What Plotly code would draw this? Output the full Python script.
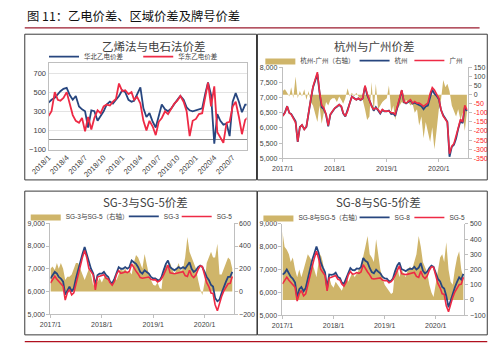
import plotly.graph_objects as go

W, H = 494, 354


def px(x):
    return x / W


def py(y):
    return 1 - y / H


def semimonthly(y0, m0, y1, m1):
    out = []
    y, m = y0, m0
    while (y, m) <= (y1, m1):
        out += [f"{y}-{m:02d}-01", f"{y}-{m:02d}-16"]
        m += 1
        if m > 12:
            m = 1
            y += 1
    return out


# ---------------- data ----------------
dates_a = semimonthly(2018, 1, 2020, 9)   # panel 1
dates_b = semimonthly(2017, 1, 2020, 7)   # panels 2-4

north_spread = [390, 420, 440, 480, 510, 535, 545, 470, 420, 460, 350, 320,
                300, 130, 310, 300, 200, 250, 300, 370, 400, 380, 420, 460,
                520, 500, 420, 400, 410, 480, 550, 330, 240, 280, 190, 130,
                260, 370, 320, 300, 330, 380, 420, 460, 420, 340, 310, 300,
                310, 320, 330, 480, 600, 470, -40, 270, 200, 160, 170, 40,
                400, 490, 400, 290, 370, 370]
east_spread = [250, 300, 500, 420, 410, 440, 500, 380, 260, 200, 180, 230,
               90, 240, 110, 230, 310, 280, 350, 370, 360, 400, 430, 590,
               510, 520, 480, 500, 420, 450, 380, 200, 100, 200, 140, 50,
               190, 230, 300, 270, 330, 380, 410, 460, 400, 300, 40, 200,
               220, 270, 280, 440, 600, 350, 560, 80, 30, -30, 180, 190,
               350, 400, 240, 60, 210, 240]

guangzhou = [6390, 6500, 6720, 6500, 6450, 6340, 6180, 5550, 6020, 6100, 5950, 6050,
             6550, 6930, 7360, 7570, 7840, 7200, 6750, 6660, 6450, 6080, 6450, 6550,
             6660, 6715, 6770, 6715, 6500, 6390, 6555, 6820, 7035, 6980, 6930, 6980,
             6930, 6980, 7400, 7140, 6930, 6715, 6610, 6660, 6610, 6500, 6610, 6555,
             6555, 6555, 6500, 6500, 6450, 6715, 7035, 7250, 6875, 6820, 6875, 6930,
             6820, 6875, 6820, 6820, 6770, 6715, 6770, 6820, 7140, 7330, 7250, 7140,
             6980, 6610, 6390, 6290, 6180, 5150, 5400, 5480, 5700, 6000, 6290, 6200,
             6750, 6600]
hangzhou = [6400, 6510, 6720, 6495, 6465, 6330, 6220, 5540, 6030, 6095, 5960, 6040,
            6560, 6915, 7335, 7530, 7780, 7175, 6685, 6620, 6435, 6055, 6440, 6540,
            6650, 6700, 6765, 6700, 6480, 6380, 6570, 6815, 7040, 6975, 6935, 6975,
            6920, 6970, 7370, 7085, 6880, 6745, 6570, 6685, 6580, 6475, 6595, 6545,
            6545, 6575, 6460, 6475, 6395, 6685, 7010, 7235, 6855, 6810, 6860, 6905,
            6800, 6835, 6790, 6750, 6720, 6620, 6710, 6740, 7035, 7260, 7130, 7060,
            6950, 6600, 6420, 6305, 6205, 5050, 5375, 5445, 5650, 5970, 6235, 6160,
            6670, 6560]
hz_gz_diff = [20, 30, 10, -10, 40, -20, 100, -20, 20, -10, 30, -30,
              20, -40, -60, -100, -150, -60, -160, -100, -40, -60, -30, -20,
              -20, -40, -10, -30, -50, -20, 35, -10, 10, -10, 10, -10,
              -20, -30, -80, -140, -120, 70, -100, 60, -80, -60, -40, -30,
              -20, 50, -100, -60, -140, -80, -60, -40, -50, -30, -40, -60,
              -50, -100, -80, -170, -120, -240, -150, -200, -260, -180, -300, -200,
              -80, -30, 80, 40, 60, 20, -60, -90, -120, -80, -140, -100,
              -200, -100]

sg3 = [6570, 6715, 6860, 6785, 6640, 6570, 6430, 5860, 6070, 6215, 6000, 6140,
       6570, 6930, 7360, 7640, 7960, 7640, 7215, 7000, 6785, 6285, 6715, 6785,
       6785, 6860, 6715, 6640, 6430, 6355, 6570, 6860, 7070, 7000, 7000, 7070,
       7000, 7070, 7360, 7285, 7215, 7070, 6860, 6785, 6930, 6860, 6785, 6640,
       6570, 6570, 6500, 6500, 6640, 6930, 7215, 7360, 7070, 7000, 6930, 7000,
       7070, 7000, 7070, 7000, 7140, 7285, 7000, 6860, 6930, 7070, 7140, 7070,
       6860, 6640, 6500, 6285, 6215, 5715, 5570, 5640, 5930, 6215, 6430, 6640,
       6640, 6860]
sg5 = [6370, 6495, 6670, 6535, 6440, 6320, 6230, 5620, 5940, 6085, 5850, 5940,
       6320, 6680, 7160, 7490, 7800, 7490, 7015, 6850, 6735, 6070, 6635, 6665,
       6705, 6740, 6575, 6540, 6370, 6275, 6450, 6760, 6920, 6800, 6820, 6870,
       6830, 6890, 7210, 7035, 6895, 6770, 6610, 6585, 6600, 6610, 6635, 6540,
       6510, 6520, 6420, 6470, 6560, 6730, 6965, 7160, 6820, 6800, 6780, 6800,
       6820, 6820, 6870, 6700, 6660, 6935, 6700, 6610, 6730, 6970, 7120, 7100,
       6780, 6390, 6200, 5935, 5915, 5415, 5150, 5490, 5780, 6015, 6180, 6340,
       6360, 6660]
sg3_sg5 = [200, 220, 190, 250, 200, 250, 200, 100, 130, 130, 150, 200,
           250, 250, 200, 150, 100, 150, 200, 150, 50, 100, 80, 120,
           80, 120, 140, 100, 60, 80, 120, 100, 150, 200, 180, 200,
           170, 180, 150, 250, 320, 300, 250, 200, 330, 250, 150, 100,
           60, 50, 80, 30, 20, 200, 250, 200, 250, 200, 150, 200,
           250, 180, 200, 300, 480, 350, 300, 250, 200, 100, 20, -30,
           80, 250, 300, 350, 300, 300, 420, 150, 150, 200, 250, 300,
           280, 200]
sg8 = [6780, 6845, 7000, 6835, 6690, 6600, 6430, 5770, 6140, 6235, 6050, 6190,
       6620, 6960, 7410, 7690, 8010, 7740, 7315, 7100, 6885, 6190, 6785, 6765,
       6785, 6860, 6675, 6620, 6430, 6375, 6600, 6880, 7070, 6980, 6970, 7050,
       7030, 7110, 7510, 7385, 7315, 7070, 6890, 6835, 7000, 6910, 6835, 6690,
       6610, 6600, 6480, 6510, 6610, 6930, 7185, 7310, 7020, 6980, 6930, 7000,
       7040, 7020, 7120, 7000, 7080, 7285, 6950, 6830, 6910, 7070, 7170, 7120,
       6880, 6590, 6480, 6235, 6165, 5845, 5350, 5660, 5880, 6215, 6460, 6660,
       6560, 6810]
sg8_sg5 = [450, 350, 330, 300, 250, 280, 200, 150, 200, 150, 200, 250,
           300, 280, 250, 200, 150, 250, 300, 250, 150, 120, 150, 100,
           80, 120, 100, 80, 60, 100, 150, 120, 150, 180, 150, 180,
           200, 220, 300, 350, 420, 300, 280, 250, 400, 300, 200, 150,
           100, 80, 60, 40, 50, 200, 220, 150, 200, 180, 150, 200,
           220, 200, 250, 300, 420, 350, 250, 220, 180, 100, 50, 20,
           100, 200, 280, 300, 250, 380, 200, 120, 100, 200, 280, 320,
           200, 150]

p1_ticks = [-100, 100, 300, 500, 700]
p2_left_ticks = [5000, 5500, 6000, 6500, 7000, 7500, 8000]
p2_right_ticks = [150, 100, 50, 0, -50, -100, -150, -200, -250, -300, -350]
p3_left_ticks = [5000, 6000, 7000, 8000, 9000]
p3_right_ticks = [-200, 0, 200, 400, 600]
p4_left_ticks = [5000, 6000, 7000, 8000, 9000]
p4_right_ticks = [-100, 0, 100, 200, 300, 400, 500]

# ---------------- style ----------------
GOLD = '#CFB56A'
BLUE = '#27467F'
RED = '#EE2A45'
AX = '#BFBFBF'
TXT = '#404040'
FONT = 'Liberation Sans, Noto Sans CJK SC, sans-serif'
CJK = 'Noto Sans CJK SC, sans-serif'
TICKF = dict(size=7, color=TXT, family=FONT)

fig = go.Figure()

# legend positions (text start x, centre y) for each legend entry
legend_pos = {
    'legend': (68, 54), 'legend2': (166, 54),
    'legend3': (293, 58), 'legend4': (391, 58), 'legend5': (448, 58),
    'legend6': (49, 218), 'legend7': (151, 218), 'legend8': (206, 218),
    'legend9': (291, 219), 'legend10': (391, 219), 'legend11': (448, 219),
}


def line(x, y, name, color, xa, ya, leg, w=1.8):
    fig.add_trace(go.Scatter(x=x, y=y, name=name, mode='lines', line=dict(color=color, width=w),
                             xaxis=xa, yaxis=ya, legend=leg, showlegend=True))


def area(x, y, name, xa, ya, leg):
    fig.add_trace(go.Scatter(x=x, y=y, name=name, mode='lines', fill='tozeroy', fillcolor=GOLD,
                             line=dict(color=GOLD, width=0), xaxis=xa, yaxis=ya, legend=leg,
                             showlegend=True))


# panel 1
line(dates_a, north_spread, '华北乙电价差', BLUE, 'x', 'y', 'legend')
line(dates_a, east_spread, '华东乙电价差', RED, 'x', 'y', 'legend2')
# panel 2
area(dates_b, hz_gz_diff, '杭州-广州（右轴）', 'x2', 'y2', 'legend3')
line(dates_b, hangzhou, '杭州', BLUE, 'x2', 'y3', 'legend4')
line(dates_b, guangzhou, '广州', RED, 'x2', 'y3', 'legend5', 1.6)
# panel 3
area(dates_b, sg3_sg5, 'SG-3与SG-5（右轴）', 'x3', 'y4', 'legend6')
line(dates_b, sg3, 'SG-3', BLUE, 'x3', 'y5', 'legend7')
line(dates_b, sg5, 'SG-5', RED, 'x3', 'y5', 'legend8', 1.6)
# panel 4
area(dates_b, sg8_sg5, 'SG-8与SG-5（右轴）', 'x4', 'y6', 'legend9')
line(dates_b, sg8, 'SG-8', BLUE, 'x4', 'y7', 'legend10')
line(dates_b, sg5, 'SG-5', RED, 'x4', 'y7', 'legend11', 1.6)


def xdate(domain, anchor, rng):
    return dict(domain=domain, anchor=anchor, type='date', range=rng, dtick='M12', tick0='2017-01-01',
                tickformat='%Y/%-m', tickfont=TICKF, showgrid=False,
                showline=True, linecolor=AX, linewidth=1, ticks='outside', ticklen=3,
                tickcolor=AX, zeroline=False)


def yax(domain, anchor, rng, ticks, side, fmt='', text=None, overlay=None):
    d = dict(anchor=anchor, range=rng, tickmode='array', tickvals=ticks,
             ticktext=text if text else None, tickformat=fmt, side=side, tickfont=TICKF,
             showgrid=False, zeroline=False, showline=True, linecolor=AX, linewidth=1,
             ticks='outside', ticklen=3, tickcolor=AX)
    if overlay:
        d['overlaying'] = overlay
    else:
        d['domain'] = domain
    return d


p2_right_text = [f'<span style="color:#FF2020">{v}</span>' if v < 0 else str(v) for v in p2_right_ticks]

layout = dict(
    width=W, height=H, margin=dict(l=0, r=0, t=0, b=0),
    paper_bgcolor='white', plot_bgcolor='white', showlegend=True,
    font=dict(family=FONT, color=TXT),
    xaxis=dict(domain=[px(30.7), px(236.7)], anchor='y', type='date',
               range=['2018-01-01', '2020-09-08'], dtick='M3', tick0='2018-01-01',
               tickformat='%Y/%-m', tickangle=-45, tickfont=dict(TICKF, size=7.5), showgrid=False,
               showline=True, mirror=True, linecolor=AX, ticks='', zeroline=False),
    yaxis=dict(domain=[py(149.3), py(61)], anchor='x', range=[-100, 800], tickmode='array',
               tickvals=p1_ticks, tickfont=dict(TICKF, size=7.5), showgrid=True, gridcolor='#E3E3E3',
               gridwidth=0.7, zeroline=True, zerolinecolor='#8C8C8C', zerolinewidth=1,
               showline=True, mirror=True, linecolor=AX, ticks=''),
    xaxis2=xdate([px(274.3), px(467.3)], 'y2', ['2017-01-01', '2020-07-26']),
    yaxis2=yax([py(158.3), py(65)], 'x2', [-350, 150], p2_right_ticks, 'right', text=p2_right_text),
    yaxis3=yax(None, 'x2', [5000, 8000], p2_left_ticks, 'left', fmt=',d', overlay='y2'),
    xaxis3=xdate([px(32.7), px(223.3)], 'y4', ['2017-01-01', '2020-07-26']),
    yaxis4=yax([py(318.3), py(225)], 'x3', [-200, 600], p3_right_ticks, 'right'),
    yaxis5=yax(None, 'x3', [5000, 9000], p3_left_ticks, 'left', fmt=',d', overlay='y4'),
    xaxis4=xdate([px(274), px(463.3)], 'y6', ['2017-01-01', '2020-07-24']),
    yaxis6=yax([py(319.3), py(225.7)], 'x4', [-100, 500], p4_right_ticks, 'right'),
    yaxis7=yax(None, 'x4', [5000, 9000], p4_left_ticks, 'left', fmt=',d', overlay='y6'),
)

for key, (tx, ty) in legend_pos.items():
    layout[key] = dict(orientation='h', xanchor='left', yanchor='middle', bgcolor='rgba(0,0,0,0)',
                       font=dict(size=6.5, color=TXT, family=FONT), itemwidth=30,
                       x=px(tx - 42), y=py(ty), borderwidth=0, visible=True)

fig.update_layout(**layout)

# titles
titles = [('图 11：乙电价差、区域价差及牌号价差', 6.5, 12.5, 12.3, 'left', '#111111'),
          ('乙烯法与电石法价差', 140, 43.5, 11.5, 'center', TXT),
          ('杭州与广州价差', 370, 43.5, 11.5, 'center', TXT),
          ('SG-3与SG-5价差', 132, 203, 11.5, 'center', TXT),
          ('SG-8与SG-5价差', 374, 203, 11.5, 'center', TXT)]
for t, x, y, s, xa, c in titles:
    fig.add_annotation(text=t, x=px(x), y=py(y), xref='paper', yref='paper', xanchor=xa,
                       yanchor='middle', showarrow=False, font=dict(size=s, color=c, family=CJK))

# panel frames and rules
frames = [(6, 31, 247, 180.5), (248, 31, 487, 180.5), (6, 192, 247.5, 339.5), (248, 192, 487, 339.5)]
for x0, y0, x1, y1 in frames:
    fig.add_shape(type='rect', xref='paper', yref='paper', x0=px(x0), x1=px(x1), y0=py(y1), y1=py(y0),
                  line=dict(color='#3A3A3A', width=1), fillcolor='rgba(0,0,0,0)')
fig.add_shape(type='line', xref='paper', yref='paper', x0=px(6), x1=px(479), y0=py(24.5), y1=py(24.5),
              line=dict(color='#9B1B2E', width=1.2))
fig.add_shape(type='line', xref='paper', yref='paper', x0=px(6), x1=px(487), y0=py(346.5), y1=py(346.5),
              line=dict(color='#B0101E', width=1.2))

fig.write_html('out.html')
